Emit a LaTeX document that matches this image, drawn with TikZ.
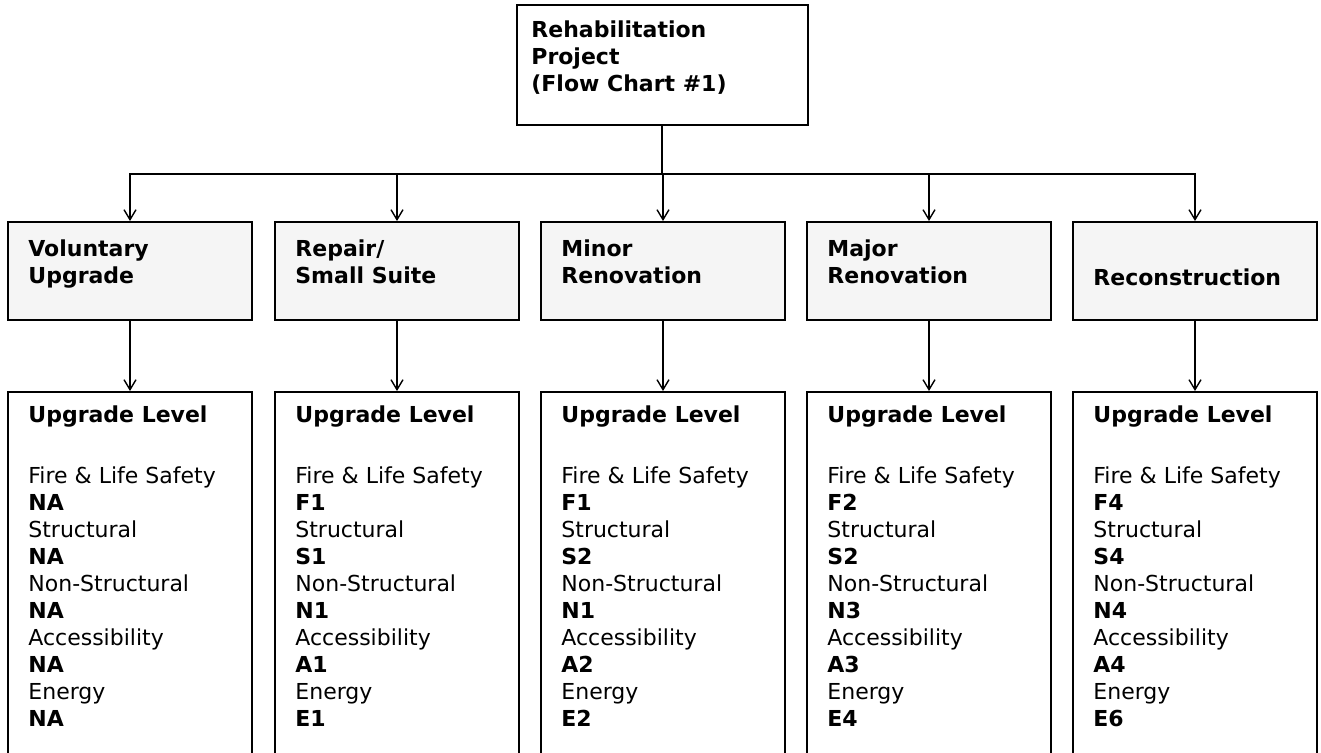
\documentclass[tikz,border=0pt]{standalone}
\usepackage{fontspec}
\setmainfont{DejaVu Sans}
\usetikzlibrary{arrows.meta}

% Werte einer Spalte
\newcommand{\ebene}[5]{\textbf{Upgrade Level}\\[17pt]
  Fire \& Life Safety\\ \textbf{#1}\\ Structural\\ \textbf{#2}\\
  Non-Structural\\ \textbf{#3}\\ Accessibility\\ \textbf{#4}\\
  Energy\\ \textbf{#5}}

\tikzset{
  kasten/.style={draw, line width=1pt, anchor=north west, inner sep=0pt},
  art/.style={kasten, fill=black!4, minimum width=122pt, minimum height=49pt},
  stufe/.style={kasten, minimum width=122pt, minimum height=190pt},
  schrift/.style={anchor=north west, inner sep=0pt, align=left,
    font=\fontsize{11}{13.5}\selectfont},
  fett/.style={schrift, font=\fontsize{11}{13.5}\selectfont\bfseries},
  linie/.style={line width=0.7pt},
  pfeil/.style={linie, -{Straight Barb[length=5pt,width=6pt]}},
}

\begin{document}
\begin{tikzpicture}[x=0.5pt, y=-0.5pt]
  \useasboundingbox (0,0) rectangle (1321,752);
  % Kopf
  \node[kasten, anchor=north, minimum width=145.5pt, minimum height=60pt] (projekt) at (662,4) {};
  \node[fett] (projekttext) at (531,20) {Rehabilitation\\Project\\(Flow Chart \#1)};
  \coordinate (verteiler) at (662,174);
  \draw[linie] (projekt.south) -- (verteiler);
  % Spalten
  \foreach \i/\x/\titel/\f/\s/\n/\a/\e in {
      1/7/{Voluntary\\Upgrade}/NA/NA/NA/NA/NA,
      2/274/{Repair/\\Small Suite}/F1/S1/N1/A1/E1,
      3/540/{Minor\\Renovation}/F1/S2/N1/A2/E2,
      4/806/{Major\\Renovation}/F2/S2/N3/A3/E4,
      5/1072/{\strut\\Reconstruction}/F4/S4/N4/A4/E6} {
    \node[art] (art\i) at (\x,221) {};
    \node[fett] (arttext\i) at (\x+21,239) {\titel};
    \node[stufe] (stufe\i) at (\x,391) {};
    \node[schrift] (stufetext\i) at (\x+21,405) {\ebene{\f}{\s}{\n}{\a}{\e}};
    \draw[pfeil] (verteiler) -| (art\i.north);
    \draw[pfeil] (art\i.south) -- (stufe\i.north);
  }
\end{tikzpicture}
\end{document}
